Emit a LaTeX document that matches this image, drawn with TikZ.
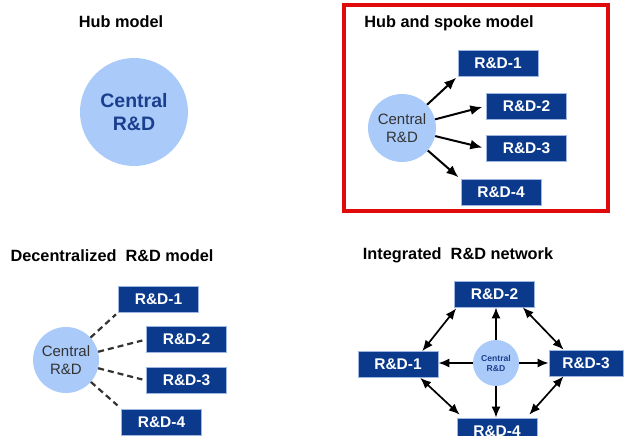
\documentclass[tikz,border=0pt]{standalone}
\usepackage{fontspec}
\setmainfont{Liberation Sans}
\usepackage{tikz}
\usetikzlibrary{arrows.meta, positioning, calc}
\definecolor{rnavy}{HTML}{0B3A8C}
\definecolor{redge}{HTML}{9DB6E2}
\definecolor{rsky}{HTML}{AACBFA}
\definecolor{rink}{HTML}{1B3F8E}
\definecolor{rgrey}{HTML}{333333}
\definecolor{rred}{HTML}{E10A0A}
\tikzset{
  >=Latex,
  unit/.style={
    draw=redge, fill=rnavy, text=white, line width=0.6pt,
    minimum width=80pt, minimum height=26pt, inner sep=0pt,
    font=\fontsize{15.5}{18}\selectfont\bfseries
  },
  hubdisk/.style={
    circle, fill=rsky, draw=none, align=center, inner sep=0pt,
    minimum size=#1
  },
  hubdisk/.default=68pt,
  heading/.style={font=\fontsize{16.3}{19}\selectfont\bfseries, text=black},
  spoke/.style={-{Latex[length=12pt,width=10pt]}, line width=2pt, draw=black},
  link/.style={line width=2.2pt, draw=rgrey, dash pattern=on 6pt off 4pt},
  mesh/.style={{Latex[length=11pt,width=9pt]}-{Latex[length=11pt,width=9pt]}, line width=1.7pt, draw=black},
  ray/.style={-{Latex[length=11pt,width=9pt]}, line width=1.7pt, draw=black}
}
\begin{document}
\begin{tikzpicture}[x=1pt,y=-1pt]
  \useasboundingbox[fill=white] (0,0) rectangle (625,436);

  \node[heading] (t1) at (121,22) {Hub model};
  \node[hubdisk=108pt,text=rink,font=\fontsize{19.5}{23}\selectfont\bfseries] (hub) at (134,112) {Central\\R\&D};

  \draw[rred,line width=4pt] (344,5) rectangle (608,211);
  \node[heading] (t2) at (449,23) {Hub and spoke model};
  \node[hubdisk=68pt,text=rgrey,font=\fontsize{15}{18}\selectfont] (sc) at (402,128) {Central\\R\&D};
  \node[unit] (s1) at (498,63) {R\&D-1};
  \node[unit] (s2) at (526.5,106) {R\&D-2};
  \node[unit] (s3) at (526.5,148.5) {R\&D-3};
  \node[unit] (s4) at (501,192.5) {R\&D-4};
  \draw[spoke,shorten >=2pt] (sc) -- (s1.south west);
  \draw[spoke,shorten >=4pt] (sc) -- (s2.west);
  \draw[spoke,shorten >=4pt] (sc) -- (s3.west);
  \draw[spoke,shorten >=3pt] (sc) -- (s4.north west);

  \node[heading] (t3) at (112,256) {Decentralized\ \ R\&D model};
  \node[hubdisk=66pt,text=rgrey,font=\fontsize{15}{18}\selectfont] (dc) at (66,360) {Central\\R\&D};
  \node[unit] (d1) at (158.5,299) {R\&D-1};
  \node[unit] (d2) at (186.5,339.5) {R\&D-2};
  \node[unit] (d3) at (186.5,380.5) {R\&D-3};
  \node[unit] (d4) at (161.5,422) {R\&D-4};
  \draw[link,shorten >=3pt] (dc) -- (d1.south west);
  \draw[link,shorten >=4pt] (dc) -- (d2.west);
  \draw[link,shorten >=4pt] (dc) -- (d3.west);
  \draw[link,shorten >=5pt] (dc) -- (d4.north west);

  \node[heading] (t4) at (458,255) {Integrated\ \ R\&D network};
  \node[hubdisk=46pt,text=rink,font=\fontsize{8.6}{10}\selectfont\bfseries] (ic) at (496,363) {Central\\R\&D};
  \node[unit] (n2) at (494.5,294) {R\&D-2};
  \node[unit] (n1) at (398,364.5) {R\&D-1};
  \node[unit,minimum width=74pt] (n3) at (586,363) {R\&D-3};
  \node[unit] (n4) at (497,431) {R\&D-4};
  \draw[ray] (ic) -- (ic |- n2.south);
  \draw[ray] (ic) -- (ic -| n1.east);
  \draw[ray] (ic) -- (ic -| n3.west);
  \draw[ray] (ic) -- (ic |- n4.north);
  \draw[mesh] ($(n2.south west)+(2,1)$) -- ($(n1.north)!0.6!(n1.north east)$);
  \draw[mesh] ($(n2.south)!0.7!(n2.south east)$) -- ($(n3.north)!0.6!(n3.north west)$);
  \draw[mesh] ($(n1.south)!0.55!(n1.south east)$) -- ($(n4.north west)+(3,-3)$);
  \draw[mesh] ($(n3.south)!0.6!(n3.south west)$) -- ($(n4.north)!0.8!(n4.north east)+(0,-3)$);
\end{tikzpicture}
\end{document}
